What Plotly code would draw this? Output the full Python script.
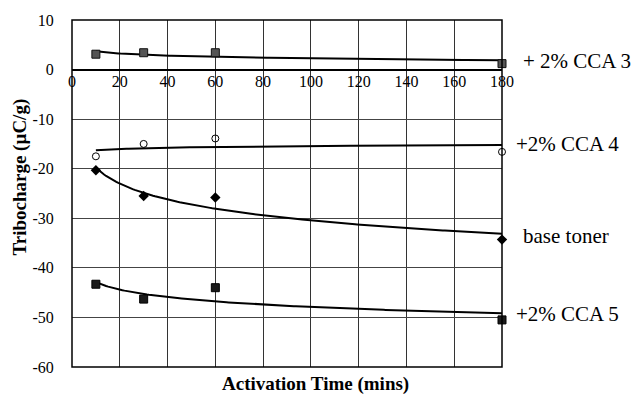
import numpy as np
import plotly.graph_objects as go

# Data
time_min = [10, 30, 60, 180]
cca3 = [3.1, 3.4, 3.4, 1.2]
cca4 = [-17.5, -15.0, -13.9, -16.6]
base_toner = [-20.3, -25.5, -25.8, -34.3]
cca5 = [-43.3, -46.3, -44.0, -50.5]

series_names = ["+ 2% CCA 3", "+2% CCA 4", "base toner", "+2% CCA 5"]
x_ticks = [0, 20, 40, 60, 80, 100, 120, 140, 160, 180]
y_ticks = [10, 0, -10, -20, -30, -40, -50, -60]

serif = "Liberation Serif"

styles = [
    dict(symbol="square", size=8, color="#555555", line=dict(color="#111111", width=1)),
    dict(symbol="circle-open", size=7, color="#000000", line=dict(color="#000000", width=1)),
    dict(symbol="diamond", size=8, color="#000000", line=dict(color="#000000", width=0)),
    dict(symbol="square", size=8, color="#1a1a1a", line=dict(color="#000000", width=1)),
]
label_y = [1.8, -15.1, -33.6, -49.3]
label_x_shift = [19, 12, 19, 12]

fig = go.Figure()
xs = np.array(time_min, dtype=float)
xfit = np.linspace(min(time_min), max(time_min), 200)
for name, ys, st in zip(series_names, [cca3, cca4, base_toner, cca5], styles):
    b, a = np.polyfit(np.log(xs), np.array(ys), 1)
    fig.add_trace(go.Scatter(x=xfit, y=a + b * np.log(xfit), mode="lines",
                             line=dict(color="black", width=2), showlegend=False,
                             hoverinfo="skip"))
    fig.add_trace(go.Scatter(x=time_min, y=ys, mode="markers", name=name,
                             marker=st, showlegend=False, cliponaxis=False))

for name, ly, sh in zip(series_names, label_y, label_x_shift):
    fig.add_annotation(x=1, xref="paper", y=ly, yref="y", text=name, showarrow=False,
                       xanchor="left", yanchor="middle", xshift=sh,
                       font=dict(family=serif, size=21, color="black"))

fig.add_annotation(x=0.567, xref="paper", y=0, yref="paper", yshift=-17,
                   text="<b>Activation Time (mins)</b>", showarrow=False,
                   xanchor="center", yanchor="middle",
                   font=dict(family=serif, size=19, color="black"))
fig.add_annotation(x=0, xref="paper", xshift=-52, y=0.546, yref="paper",
                   text="<b>Tribocharge (µC/g)</b>", showarrow=False, textangle=-90,
                   xanchor="center", yanchor="middle",
                   font=dict(family=serif, size=19, color="black"))

fig.add_shape(type="rect", xref="x domain", yref="y domain", x0=0, x1=1, y0=0, y1=1,
              line=dict(color="black", width=1.5), layer="above")

fig.update_layout(
    width=637, height=395,
    margin=dict(l=72, r=135, t=17, b=28),
    paper_bgcolor="white", plot_bgcolor="white",
    font=dict(family=serif, color="black"),
    xaxis=dict(range=[0, 180], tickvals=x_ticks, ticktext=[str(v) for v in x_ticks],
               anchor="free", position=60 / 70, showline=False,
               showgrid=True, gridcolor="#333333", gridwidth=1,
               zeroline=False, ticks="", ticklen=0,
               tickfont=dict(family=serif, size=16, color="black")),
    yaxis=dict(range=[-60, 10], tickvals=y_ticks, ticktext=[str(v) for v in y_ticks],
               showgrid=True, gridcolor="#444444", gridwidth=1,
               zeroline=True, zerolinecolor="black", zerolinewidth=1.5,
               ticks="outside", ticklen=14, tickcolor="rgba(0,0,0,0)",
               tickfont=dict(family=serif, size=16, color="black")),
)

fig.write_html("out.html")
